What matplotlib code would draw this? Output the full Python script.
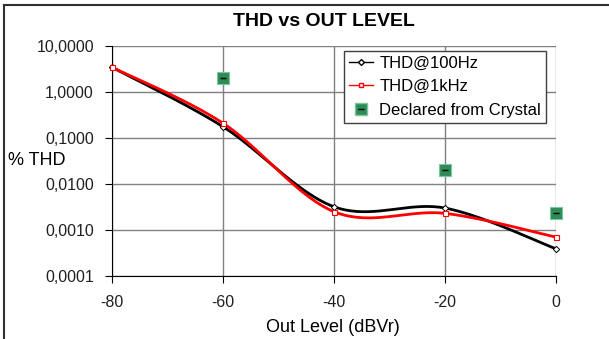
import numpy as np
import matplotlib
matplotlib.use("Agg")
import matplotlib.pyplot as plt
from matplotlib.lines import Line2D
from matplotlib.ticker import FixedLocator, NullLocator

plt.rcParams['font.family'] = ['Liberation Sans', 'DejaVu Sans']

levels = [-80, -60, -40, -20, 0]
thd_100hz = [3.45, 0.176, 0.0032, 0.0030, 0.00039]
thd_1khz = [3.45, 0.21, 0.0025, 0.0023, 0.00070]
declared_x = [-60, -20, 0]
declared = [2.0, 0.020, 0.0023]
ytick_labels = ["0,0001", "0,0010", "0,0100", "0,1000", "1,0000", "10,0000"]


def smooth(x, y, n=40):
    # excel style smoothed line: catmull-rom bezier in (x, log y)
    px = np.array(x, float)
    py = np.log10(np.array(y, float))
    px = np.concatenate([[px[0]], px, [px[-1]]])
    py = np.concatenate([[py[0]], py, [py[-1]]])
    xs, ys = [], []
    t = np.linspace(0, 1, n)
    for i in range(1, len(px) - 2):
        p0 = np.array([px[i], py[i]])
        p3 = np.array([px[i + 1], py[i + 1]])
        c1 = p0 + (p3 - np.array([px[i - 1], py[i - 1]])) / 6
        c2 = p3 - (np.array([px[i + 2], py[i + 2]]) - p0) / 6
        b = ((1 - t) ** 3)[:, None] * p0 + (3 * (1 - t) ** 2 * t)[:, None] * c1 \
            + (3 * (1 - t) * t ** 2)[:, None] * c2 + (t ** 3)[:, None] * p3
        xs.append(b[:, 0])
        ys.append(b[:, 1])
    return np.concatenate(xs), 10 ** np.concatenate(ys)


fig = plt.figure(figsize=(6.09, 3.39), dpi=100)
ax = fig.add_axes([112 / 609, 1 - 276 / 339, 444 / 609, 230 / 339])

# chart border (top and left edges only visible)
fig.add_artist(Line2D([4 / 609, 1], [1 - 4.5 / 339] * 2, color="#303030",
                      lw=1.5, transform=fig.transFigure))
fig.add_artist(Line2D([4 / 609] * 2, [0, 1 - 4.5 / 339], color="#303030",
                      lw=1.5, transform=fig.transFigure))

ax.set_yscale("log")
ax.set_xlim(-80, 0)
ax.set_ylim(0.0001, 10)
ax.set_xticks(levels)
ax.set_xticklabels([str(v) for v in levels])
ax.yaxis.set_major_locator(FixedLocator([1e-4, 1e-3, 1e-2, 1e-1, 1, 10]))
ax.yaxis.set_minor_locator(NullLocator())
ax.set_yticklabels(ytick_labels)
ax.grid(True, color="#808080", lw=1)
ax.set_axisbelow(True)
for s in ["top", "right"]:
    ax.spines[s].set_visible(False)
for s in ["left", "bottom"]:
    ax.spines[s].set_color("black")
ax.tick_params(axis="both", labelsize=11.5, length=5, color="black",
               labelcolor="#202020")
ax.tick_params(axis="x", pad=9)
ax.tick_params(axis="y", pad=8)

sx, sy = smooth(levels, thd_100hz)
ax.plot(sx, sy, color="black", lw=2, zorder=3)
ax.plot(levels, thd_100hz, ls="none", marker="D", ms=3.2, mfc="white",
        mec="black", mew=0.7, zorder=4, clip_on=False)
sx, sy = smooth(levels, thd_1khz)
ax.plot(sx, sy, color="red", lw=2, zorder=3)
ax.plot(levels, thd_1khz, ls="none", marker="s", ms=3.6, mfc="white",
        mec="red", mew=0.8, zorder=4, clip_on=False)
ax.plot(declared_x, declared, ls="none", marker="s", ms=9, mfc="#2e8b57",
        mec="#7cc79a", mew=0.8, zorder=5, clip_on=False)
ax.plot(declared_x, declared, ls="none", marker="_", ms=4, mec="black",
        mew=1, zorder=6, clip_on=False)

fig.text(0.532, 1 - 21 / 339, "THD vs OUT LEVEL", ha="center", va="center",
         fontsize=14, fontweight="bold")
fig.text(8 / 609, 1 - 161 / 339, "% THD", ha="left", va="center", fontsize=13)
fig.text(333 / 609, 1 - 327 / 339, "Out Level (dBVr)", ha="center",
         va="center", fontsize=13)

h1 = Line2D([], [], color="black", lw=1, marker="D", ms=3, mfc="white",
            mec="black")
h2 = Line2D([], [], color="red", lw=1, marker="s", ms=3.5, mfc="white",
            mec="red")
h3a = Line2D([], [], ls="none", marker="s", ms=9, mfc="#2e8b57",
             mec="#7cc79a")
h3b = Line2D([], [], ls="none", marker="_", ms=4, mec="black")
leg = ax.legend([h1, h2, (h3a, h3b)],
                ["THD@100Hz", "THD@1kHz", "Declared from Crystal"],
                loc="upper right", bbox_to_anchor=(434 / 444, 225 / 230),
                fontsize=12, frameon=True, fancybox=False, borderpad=0.3,
                handlelength=1.4, handletextpad=0.4, labelspacing=0.5,
                borderaxespad=0)
leg.get_frame().set_edgecolor("#404040")
leg.get_frame().set_linewidth(1)
leg.get_frame().set_alpha(1)

fig.savefig("out.png", dpi=100)
